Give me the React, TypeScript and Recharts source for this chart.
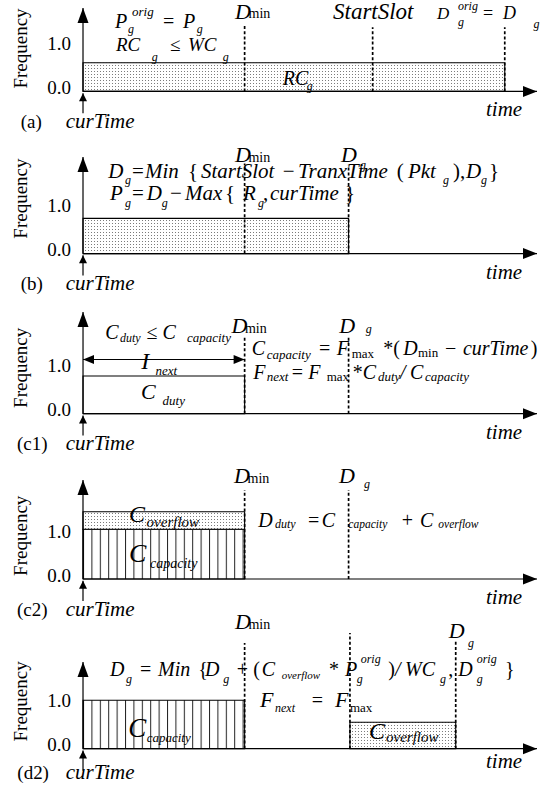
import React from "react";
import { ComposedChart, XAxis, YAxis, ReferenceArea, ReferenceLine, ReferenceDot } from "recharts";

type Part = [string, number, number, number, number];
type Note = { t: number; f: number; parts: Part[] };
type Block = { t0: number; t1: number; f0: number; f1: number; fill: string };
type Mark = { t: number; top: number };

const FONT = "Liberation Serif";
const PX_PER_UNIT = 44;

const freqTicks = [0, 0.5, 1.0];
const dMin = 35.6;

// dashed deadline markers per panel (time, top of the dashed line)
const linesA: Mark[] = [{ t: dMin, top: 1.52 }, { t: 63.8, top: 1.46 }, { t: 92.9, top: 1.46 }];
const linesB: Mark[] = [{ t: dMin, top: 2.05 }, { t: 58.5, top: 2.02 }];
const linesC1: Mark[] = [{ t: dMin, top: 1.74 }, { t: 58.5, top: 1.74 }];
const linesC2: Mark[] = [{ t: dMin, top: 2.02 }, { t: 58.5, top: 2.02 }];
const linesD2: Mark[] = [{ t: dMin, top: 2.4 }, { t: 58.8, top: 2.63 }, { t: 82.1, top: 2.46 }];

// frequency blocks per panel
const blocksA: Block[] = [{ t0: 0, t1: 92.9, f0: 0, f1: 0.65, fill: "dots" }];
const blocksB: Block[] = [{ t0: 0, t1: 58.5, f0: 0, f1: 0.8, fill: "dots" }];
const blocksC1: Block[] = [{ t0: 0, t1: dMin, f0: 0, f1: 0.855, fill: "none" }];
const blocksC2: Block[] = [
  { t0: 0, t1: dMin, f0: 0, f1: 1.13, fill: "hatch" },
  { t0: 0, t1: dMin, f0: 1.13, f1: 1.53, fill: "dots" },
];
const blocksD2: Block[] = [
  { t0: 0, t1: dMin, f0: 0, f1: 1.1, fill: "hatch" },
  { t0: 58.8, t1: 82.1, f0: 0, f1: 0.6, fill: "dots" },
];

const DMIN: Part[] = [["D", 0, 0, 22, 1], ["min", 13.5, -0.5, 14, 0]];

const notesA: Note[] = [
  { t: 7.05, f: 1.44, parts: [["P", 0, 0, 20, 1], ["orig", 17, -12, 13, 1], ["g", 13, 4.5, 12, 1], ["=", 48, 0, 20, 0], ["P", 68, 0, 20, 1], ["g", 81.7, 4.5, 12, 1]] },
  { t: 7.27, f: 0.91, parts: [["RC", 0, 0, 19, 1], ["g", 35.7, 10, 12, 1], ["≤", 54, 0, 19, 0], ["WC", 72, 0, 19, 1], ["g", 106.7, 10, 12, 1]] },
  { t: 33.5, f: 1.645, parts: DMIN },
  { t: 55.07, f: 1.645, parts: [["StartSlot", 0, 0, 23, 1]] },
  { t: 77.97, f: 1.645, parts: [["D", 0, 0, 17, 1], ["orig", 21, -9, 12, 1], ["g", 21, 7, 12, 1], ["=", 46, 0, 18, 0], ["D", 66, 0, 18, 1], ["g", 96.6, 9, 12, 1]] },
  { t: 43.99, f: 0.152, parts: [["RC", 0, 0, 20, 1], ["g", 24, 5.5, 12, 1]] },
];

const notesB: Note[] = [
  { t: 33.48, f: 2.08, parts: DMIN },
  { t: 56.83, f: 2.08, parts: [["D", 0, 0, 22, 1], ["g", 19, 6.6, 12, 1]] },
  { t: 5.57, f: 1.727, parts: [["D", 0, 0, 21, 1], ["g", 16.7, 6.7, 12, 1], ["=", 23.7, 0, 21, 0], ["Min", 36.7, 0, 21, 1], ["{", 79.7, 0, 21, 0], ["StartSlot", 92.7, 0, 21, 1], ["−", 174.4, 0, 21, 0], ["TranxTime", 189.7, 0, 21, 1], ["(", 288.4, 0, 21, 0], ["Pkt", 299.7, 0, 21, 1], ["g", 334.7, 6.7, 12, 1], ["),", 344.7, 0, 21, 0], ["D", 357.7, 0, 21, 1], ["g", 372.7, 6.7, 12, 1], ["}", 380.7, 0, 21, 0]] },
  { t: 5.95, f: 1.211, parts: [["P", 0, 0, 21, 1], ["g", 15, 6.5, 12, 1], ["=", 22, 0, 21, 0], ["D", 36.7, 0, 21, 1], ["g", 51.7, 6.5, 12, 1], ["−", 60, 0, 21, 0], ["Max", 75, 0, 21, 1], ["{", 115, 0, 21, 0], ["R", 133, 0, 21, 1], ["g", 148, 6.5, 12, 1], [",", 153, 0, 21, 0], ["curTime", 160, 0, 21, 1], ["}", 235, 0, 21, 0]] },
];

const notesC1: Note[] = [
  { t: 4.91, f: 1.705, parts: [["C", 0, 0, 20, 1], ["duty", 14.7, 3, 12, 1], ["≤", 41.3, 0, 20, 0], ["C", 57.2, 0, 20, 1], ["capacity", 81.7, 3, 13, 1]] },
  { t: 32.69, f: 1.827, parts: DMIN },
  { t: 56.43, f: 1.827, parts: [["D", 0, 0, 22, 1], ["g", 26.5, 0, 12, 1]] },
  { t: 12.84, f: 1.023, parts: [["I", 0, 0, 24, 1], ["next", 14.2, 6.7, 13, 1]] },
  { t: 12.78, f: 0.341, parts: [["C", 0, 0, 22, 1], ["duty", 21.5, 6.7, 13, 1]] },
  { t: 37.16, f: 1.325, parts: [["C", 0, 0, 20, 1], ["capacity", 15, 3.3, 13, 1], ["=", 67.3, 0, 20, 0], ["F", 85, 0, 20, 1], ["max", 100, 2.3, 13, 0], ["*", 131.6, 0, 20, 0], ["(", 141.6, 0, 20, 0], ["D", 151.6, 0, 20, 1], ["min", 166.3, 2, 13, 0], ["−", 193.3, 0, 20, 0], ["curTime", 211.3, 0, 20, 1], [")", 279, 0, 20, 0]] },
  { t: 37.51, f: 0.795, parts: [["F", 0, 0, 20, 1], ["next", 13.4, 2.4, 13, 1], ["=", 38.4, 0, 20, 0], ["F", 55, 0, 20, 1], ["max", 73.4, 2, 13, 0], ["*", 99.4, 0, 20, 0], ["C", 109.4, 0, 20, 1], ["duty", 124.7, 2.4, 13, 1], ["/", 146.7, 0, 20, 1], ["C", 156.7, 0, 20, 1], ["capacity", 171.7, 2.4, 13, 1]] },
];

const notesC2: Note[] = [
  { t: 33.26, f: 2.175, parts: DMIN },
  { t: 56.39, f: 2.175, parts: [["D", 0, 0, 22, 1], ["g", 25, 5, 12, 1]] },
  { t: 10.13, f: 1.302, parts: [["C", 0, 0, 24, 1], ["overflow", 17.6, 5.6, 15, 1]] },
  { t: 10.13, f: 0.393, parts: [["C", 0, 0, 26, 1], ["capacity", 21, 6.6, 14, 1]] },
  { t: 38.61, f: 1.189, parts: [["D", 0, 0, 20, 1], ["duty", 16.7, 1.5, 12, 1], ["=", 49.7, 0, 20, 0], ["C", 63.4, 0, 20, 1], ["capacity", 90, 1.5, 11.5, 1], ["+", 143.4, 0, 20, 0], ["C", 161.7, 0, 20, 1], ["overflow", 180, 1.5, 11.5, 1]] },
];

const notesD2: Note[] = [
  { t: 33.48, f: 2.711, parts: DMIN },
  { t: 80.55, f: 2.514, parts: [["D", 0, 0, 22, 1], ["g", 19.3, 9, 12, 1]] },
  { t: 5.95, f: 1.659, parts: [["D", 0, 0, 20, 1], ["g", 16, 7.3, 12, 1], ["=", 30, 0, 20, 0], ["Min", 48, 0, 20, 1], ["{", 88.3, 0, 20, 0], ["D", 95, 0, 20, 1], ["g", 113.3, 7.3, 12, 1], ["+", 126.7, 0, 20, 0], ["(", 143.3, 0, 20, 0], ["C", 151.7, 0, 20, 1], ["overflow", 171.7, 3.3, 11, 1], ["*", 219, 0, 20, 0], ["P", 235, 0, 20, 1], ["orig", 250.7, -12.4, 12, 1], ["g", 246.7, 7.3, 12, 1], [")", 278.3, 0, 20, 0], ["/", 285, 0, 20, 1], ["WC", 295, 0, 20, 1], ["g", 330, 7.3, 12, 1], [",", 338.3, 0, 20, 0], ["D", 348.3, 0, 20, 1], ["orig", 366.7, -12.4, 12, 1], ["g", 366.7, 7.3, 12, 1], ["}", 395, 0, 20, 0]] },
  { t: 38.99, f: 0.945, parts: [["F", 0, 0, 22, 1], ["next", 15, 5, 12, 1], ["=", 51.7, 0, 20, 0], ["F", 75, 0, 22, 1], ["max", 90, 5, 13, 0]] },
  { t: 9.98, f: 0.264, parts: [["C", 0, 0, 27, 1], ["capacity", 18.4, 5, 13, 1]] },
  { t: 63.0, f: 0.227, parts: [["C", 0, 0, 24, 1], ["overflow", 17, 3, 15, 1]] },
];

type PanelSpec = {
  id: string;
  tag: string;
  axisY: number;
  yTop: number;
  tagT: number;
  tagF: number;
  timeF: number;
  freqF: number;
  blocks: Block[];
  lines: Mark[];
  notes: Note[];
  span?: number;
};

const panelSpecs: PanelSpec[] = [
  { id: "a", tag: "(a)", axisY: 91.7, yTop: 1.895, tagT: -13.72, tagF: -0.832, timeF: -0.568, freqF: 0.975, blocks: blocksA, lines: linesA, notes: notesA },
  { id: "b", tag: "(b)", axisY: 253.3, yTop: 2.195, tagT: -13.72, tagF: -0.834, timeF: -0.568, freqF: 1.25, blocks: blocksB, lines: linesB, notes: notesB },
  { id: "c1", tag: "(c1)", axisY: 413.3, yTop: 2.31, tagT: -14.54, tagF: -0.834, timeF: -0.568, freqF: 1.041, blocks: blocksC1, lines: linesC1, notes: notesC1, span: 1.23 },
  { id: "c2", tag: "(c2)", axisY: 579, yTop: 2.25, tagT: -14.54, tagF: -0.834, timeF: -0.568, freqF: 0.982, blocks: blocksC2, lines: linesC2, notes: notesC2 },
  { id: "d2", tag: "(d2)", axisY: 748.3, yTop: 1.97, tagT: -14.47, tagF: -0.7, timeF: -0.448, freqF: 1.075, blocks: blocksD2, lines: linesD2, notes: notesD2 },
];

function Formula({ cx, cy, parts }: { cx: number; cy: number; parts: Part[] }) {
  return (
    <g>
      {parts.map(([t, dx, dy, s, it], i) => (
        <text key={i} x={cx + dx} y={cy + dy} fill="#000" fontFamily={FONT} fontSize={s} fontStyle={it ? "italic" : "normal"}>
          {t}
        </text>
      ))}
    </g>
  );
}

function ArrowLine(p: any) {
  const { x1, y1, x2, y2, len = 14, half = 5, both = false } = p;
  const dx = x2 - x1;
  const dy = y2 - y1;
  const d = Math.hypot(dx, dy) || 1;
  const ux = dx / d;
  const uy = dy / d;
  const nx = -uy;
  const ny = ux;
  const head = (tx: number, ty: number, sx: number, sy: number) =>
    `${tx},${ty} ${tx - sx * len + nx * half},${ty - sy * len + ny * half} ${tx - sx * len - nx * half},${ty - sy * len - ny * half}`;
  return (
    <g>
      <line x1={x1} y1={y1} x2={x2} y2={y2} stroke="#000" strokeWidth={1.2} />
      <polygon points={head(x2, y2, ux, uy)} fill="#000" />
      {both && <polygon points={head(x1, y1, -ux, -uy)} fill="#000" />}
    </g>
  );
}

function FreqTick(props: any) {
  const { x, y, payload } = props;
  return (
    <text x={x} y={y - 4} dy="0.35em" textAnchor="end" fill="#000" fontFamily={FONT} fontSize={19}>
      {Number(payload.value).toFixed(1)}
    </text>
  );
}

function Panel({ spec }: { spec: PanelSpec }) {
  const plotH = spec.yTop * PX_PER_UNIT;
  const top = spec.axisY - plotH - 10;
  const fillOf = (f: string) => (f === "dots" ? `url(#dots-${spec.id})` : f === "hatch" ? `url(#hatch-${spec.id})` : "#fff");
  return (
    <div style={{ position: "absolute", left: 0, top }}>
      <ComposedChart width={554} height={plotH + 20} data={spec.lines} margin={{ top: 10, right: 17, bottom: 10, left: 0 }}>
        <defs>
          <pattern id={`dots-${spec.id}`} width={3} height={3} patternUnits="userSpaceOnUse">
            <rect width={3} height={3} fill="#fff" />
            <rect x={1} y={1} width={1} height={1} fill="#7a7a7a" />
          </pattern>
          <pattern id={`hatch-${spec.id}`} x={83} width={8.4} height={10} patternUnits="userSpaceOnUse">
            <rect width={8.4} height={10} fill="#fff" />
            <line x1={0.5} y1={0} x2={0.5} y2={10} stroke="#222" strokeWidth={1} />
          </pattern>
        </defs>
        <XAxis type="number" dataKey="t" domain={[0, 100]} hide allowDataOverflow />
        <YAxis
          type="number"
          domain={[0, spec.yTop]}
          ticks={freqTicks}
          width={83}
          axisLine={false}
          tickLine={false}
          tickSize={0}
          tickMargin={12}
          tick={(p: any) => <FreqTick {...p} />}
          allowDataOverflow
        />
        {spec.blocks.map((b, i) => (
          <ReferenceArea
            key={`blk-${i}`}
            x1={b.t0}
            x2={b.t1}
            y1={b.f0}
            y2={b.f1}
            fill={fillOf(b.fill)}
            fillOpacity={1}
            stroke="#000"
            strokeWidth={1.1}
            ifOverflow="visible"
          />
        ))}
        {spec.lines.map((m, i) => (
          <ReferenceLine
            key={`dl-${i}`}
            segment={[{ x: m.t, y: 0 }, { x: m.t, y: m.top }]}
            stroke="#000"
            strokeWidth={1.7}
            strokeDasharray="3 2.2"
            ifOverflow="visible"
          />
        ))}
        <ReferenceLine
          segment={[{ x: 0, y: 0 }, { x: 100, y: 0 }]}
          ifOverflow="visible"
          shape={(p: any) => <ArrowLine {...p} len={14} half={5.5} />}
        />
        <ReferenceLine
          segment={[{ x: 0, y: 0 }, { x: 0, y: spec.yTop }]}
          ifOverflow="visible"
          shape={(p: any) => <ArrowLine {...p} len={15} half={5.5} />}
        />
        <ReferenceLine
          segment={[{ x: 0, y: -0.5 }, { x: 0, y: -0.04 }]}
          ifOverflow="visible"
          shape={(p: any) => <ArrowLine {...p} len={8} half={4} />}
        />
        {spec.span !== undefined && (
          <ReferenceLine
            segment={[{ x: 0, y: spec.span }, { x: dMin, y: spec.span }]}
            ifOverflow="visible"
            shape={(p: any) => <ArrowLine {...p} len={11} half={4.5} both />}
          />
        )}
        {spec.notes.map((n, i) => (
          <ReferenceDot
            key={`n-${i}`}
            x={n.t}
            y={n.f}
            r={0}
            ifOverflow="visible"
            shape={(p: any) => <Formula cx={p.cx} cy={p.cy} parts={n.parts} />}
          />
        ))}
        <ReferenceDot
          x={88.77}
          y={spec.timeF}
          r={0}
          ifOverflow="visible"
          shape={(p: any) => <Formula cx={p.cx} cy={p.cy} parts={[["time", 0, 0, 21, 1]]} />}
        />
        <ReferenceDot
          x={spec.tagT}
          y={spec.tagF}
          r={0}
          ifOverflow="visible"
          shape={(p: any) => (
            <Formula cx={p.cx} cy={p.cy} parts={[[spec.tag, 0, 0, 19, 0], ["curTime", 65.7 - (83 + spec.tagT * 4.54), 0, 21, 1]]} />
          )}
        />
        <ReferenceDot
          x={-13.72}
          y={spec.freqF}
          r={0}
          ifOverflow="visible"
          shape={(p: any) => (
            <text
              x={p.cx}
              y={p.cy}
              transform={`rotate(-90 ${p.cx} ${p.cy})`}
              textAnchor="middle"
              dominantBaseline="central"
              fill="#000"
              fontFamily={FONT}
              fontSize={19}
            >
              Frequency
            </text>
          )}
        />
      </ComposedChart>
    </div>
  );
}

export default function App() {
  return (
    <div style={{ position: "absolute", left: 0, top: 0, width: 554, height: 786, background: "#fff", overflow: "hidden", fontFamily: FONT }}>
      <style>{".recharts-surface{overflow:visible}"}</style>
      {panelSpecs.map((s) => (
        <Panel key={s.id} spec={s} />
      ))}
    </div>
  );
}
